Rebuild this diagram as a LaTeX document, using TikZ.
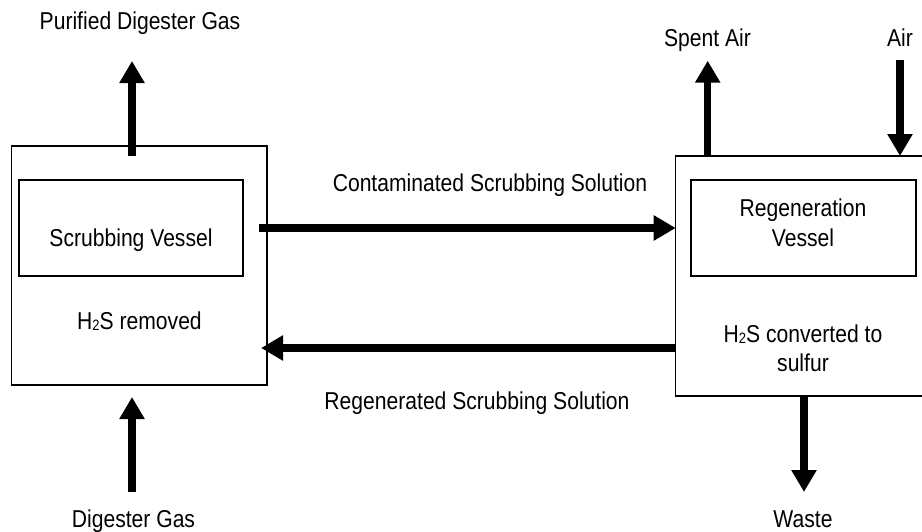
\documentclass[tikz,border=0pt]{standalone}
\usepackage{fontspec}
\setmainfont{Liberation Sans}[FakeStretch=0.865]
\usetikzlibrary{arrows.meta,calc}
% small lowered digit for chemical formulae
\newcommand\chemsub[1]{\raisebox{-1.5pt}{\fontsize{15}{15}\selectfont #1}}
\begin{document}
\begin{tikzpicture}[x=1pt,y=-1pt,
  box/.style={draw, line width=1.4pt, inner sep=0pt, outer sep=0pt},
  lbl/.style={font=\fontsize{24.4}{29.3}\selectfont, inner sep=0pt, anchor=base, align=center},
  flow/.style={line width=7.5pt, -{Triangle[length=22pt,width=24pt]}},
]
\useasboundingbox (0,0) rectangle (922,531);
\clip (0,0) rectangle (922,531);

% vessels
\node[box, minimum width=255.3pt, minimum height=239pt] (lbox) at (139.4,265.5) {};
\node[box, minimum width=224pt, minimum height=96pt] (linner) at (131,228) {};
\node[box, minimum width=264.3pt, minimum height=240pt] (rbox) at (807.85,276) {};
\node[box, minimum width=225pt, minimum height=96pt] (rinner) at (803.5,228) {};

% texts inside the vessels (base = baseline of the last line)
\node[lbl] (scrub) at (131,246) {Scrubbing Vessel};
\node[lbl] (remv) at (139.5,329) {H\chemsub{2}S removed};
\node[lbl] (regen) at (803,246) {Regeneration\\Vessel};
\node[lbl] (conv) at (803,371.5) {H\chemsub{2}S converted to\\sulfur};

% stream labels
\node[lbl] (tpure) at (140,29.3) {Purified Digester Gas};
\node[lbl] (tdig) at (133.5,527) {Digester Gas};
\node[lbl] (tspent) at (707.5,46.7) {Spent Air};
\node[lbl] (tair) at (900,46.7) {Air};
\node[lbl] (twaste) at (803,527.7) {Waste};
\node[lbl] (tcont) at (490,191.7) {Contaminated Scrubbing Solution};
\node[lbl] (tregen) at (477,409.3) {Regenerated Scrubbing Solution};

% streams
\coordinate (pureTip) at (132,61);
\draw[flow] ($(lbox.north -| pureTip)+(0,10)$) -- (pureTip);
\coordinate (digTail) at (132,492);
\draw[flow] (digTail) -- ($(lbox.south -| digTail)+(0,12)$);
\coordinate (spentTip) at (707.7,60.7);
\draw[flow] (rbox.north -| spentTip) -- (spentTip);
\coordinate (airTail) at (900,60);
\draw[flow] (airTail) -- (rbox.north -| airTail);
\coordinate (wasteTip) at (804,492);
\draw[flow] (rbox.south -| wasteTip) -- (wasteTip);
\draw[flow] ($(lbox.east |- linner.east)+(-8,0)$) -- (rbox.west |- linner.east);
\coordinate (regenTail) at ($(rbox.west)+(0,72)$);
\draw[flow] (regenTail) -- ($(lbox.east |- regenTail)+(-6,0)$);
\end{tikzpicture}
\end{document}
